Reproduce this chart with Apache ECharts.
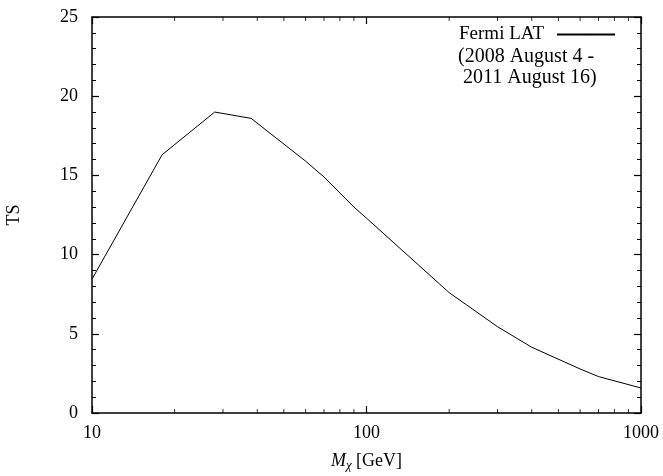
<!DOCTYPE html>
<html>
<head>
<meta charset="utf-8">
<script src="https://cdn.jsdelivr.net/npm/echarts@6/dist/echarts.min.js"></script>
<style>
  html, body { margin: 0; padding: 0; background: #fff; }
  #chart { width: 663px; height: 476px; }
</style>
</head>
<body>
<div id="chart"></div>
<script>
// dark matter mass [GeV] and test statistic
const masses = [10, 18, 28, 38, 60, 70, 90, 100, 200, 300, 400, 600, 700, 1000]
const tsValues = [8.45, 16.3, 19.0, 18.6, 15.9, 14.9, 13.0, 12.3, 7.6, 5.45, 4.15, 2.78, 2.3, 1.58]

// minor tick positions of the log axis
const minorTicks = [20, 30, 40, 50, 60, 70, 80, 90, 200, 300, 400, 500, 600, 700, 800, 900]

const seriesName = 'Fermi LAT'
const noteText = '(2008 August 4 -\n 2011 August 16)'

const font = 'Liberation Serif'
const chart = echarts.init(document.getElementById('chart'))

const lineData = masses.map((m, i) => [m, tsValues[i]])

const axisLine = { show: true, onZero: false, lineStyle: { color: '#000', width: 1.5 } }
const majorTick = { show: true, inside: true, length: 7, lineStyle: { color: '#000', width: 1.2 } }

chart.setOption({
  animation: false,
  textStyle: { fontFamily: font, color: '#000' },
  grid: { left: 92, right: 22, top: 17, bottom: 63, outerBoundsMode: 'none' },
  legend: {
    data: [seriesName],
    right: 42,
    top: 20,
    align: 'right',
    itemWidth: 58,
    itemHeight: 2,
    textStyle: { fontFamily: font, fontSize: 19, color: '#000', padding: [0, 8, 0, 0] },
  },
  graphic: [
    {
      type: 'text',
      left: 458,
      top: 46,
      style: { text: noteText, font: '20px "Liberation Serif"', fill: '#000', lineHeight: 21 },
    },
  ],
  xAxis: [
    {
      type: 'log',
      logBase: 10,
      min: 10,
      max: 1000,
      name: '{i|M}{s|χ} [GeV]',
      nameLocation: 'middle',
      nameGap: 38,
      nameTextStyle: {
        fontFamily: font,
        fontSize: 18,
        color: '#000',
        rich: {
          i: { fontFamily: font, fontSize: 18, fontStyle: 'italic' },
          s: { fontFamily: font, fontSize: 13, fontStyle: 'italic', verticalAlign: 'bottom', padding: [8, 0, 0, 0] },
        },
      },
      axisLine: axisLine,
      axisTick: majorTick,
      axisLabel: { fontFamily: font, fontSize: 18, color: '#000', margin: 11, formatter: (v) => String(v) },
      splitLine: { show: false },
    },
    {
      type: 'log',
      logBase: 10,
      min: 10,
      max: 1000,
      position: 'top',
      axisLine: axisLine,
      axisTick: majorTick,
      axisLabel: { show: false },
      splitLine: { show: false },
    },
  ],
  yAxis: [
    {
      type: 'value',
      min: 0,
      max: 25,
      interval: 5,
      name: 'TS',
      nameLocation: 'middle',
      nameGap: 69,
      nameTextStyle: { fontFamily: font, fontSize: 18, color: '#000' },
      axisLine: axisLine,
      axisTick: majorTick,
      minorTick: { show: true, splitNumber: 5, length: 4, lineStyle: { color: '#000' } },
      axisLabel: { fontFamily: font, fontSize: 18, color: '#000', margin: 14 },
      splitLine: { show: false },
    },
    {
      type: 'value',
      min: 0,
      max: 25,
      interval: 5,
      position: 'right',
      axisLine: axisLine,
      axisTick: majorTick,
      minorTick: { show: true, splitNumber: 5, length: 4, lineStyle: { color: '#000' } },
      axisLabel: { show: false },
      splitLine: { show: false },
    },
  ],
  series: [
    {
      name: seriesName,
      type: 'line',
      data: lineData,
      symbol: 'none',
      lineStyle: { color: '#000', width: 1 },
      itemStyle: { color: '#000' },
    },
    {
      // minor ticks along the bottom axis
      type: 'scatter',
      data: minorTicks.map((m) => [m, 0]),
      symbol: 'rect',
      symbolSize: [1, 4],
      symbolOffset: [0, -2],
      itemStyle: { color: '#000' },
      clip: false,
      silent: true,
    },
    {
      // minor ticks along the top axis
      type: 'scatter',
      data: minorTicks.map((m) => [m, 25]),
      symbol: 'rect',
      symbolSize: [1, 4],
      symbolOffset: [0, 2],
      itemStyle: { color: '#000' },
      clip: false,
      silent: true,
    },
  ],
})
</script>
</body>
</html>
